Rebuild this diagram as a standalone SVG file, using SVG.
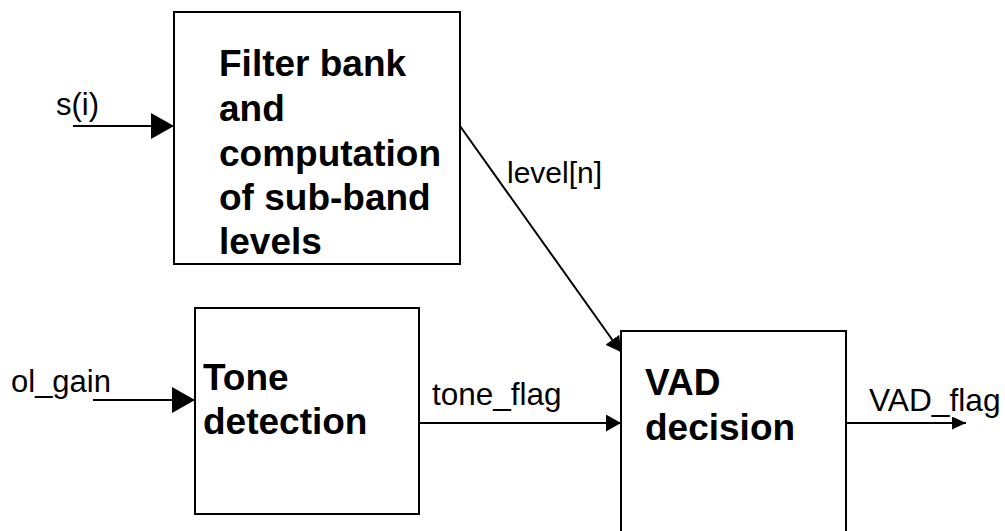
<svg xmlns="http://www.w3.org/2000/svg" width="1005" height="531" viewBox="0 0 1005 531">
<style>
.box{fill:#fff;stroke:#000;stroke-width:2}
.t{font-family:"Liberation Sans",Arial,sans-serif;font-size:31px;fill:#000}
.b{font-family:"Liberation Sans",Arial,sans-serif;font-size:37px;font-weight:bold;fill:#000}
.c{stroke:#000;stroke-width:2;fill:none}
</style>
<defs>
<marker id="big" markerUnits="userSpaceOnUse" markerWidth="24" markerHeight="26" refX="23" refY="13" orient="auto"><path d="M0,0 L23,13 L0,26 Z" fill="#000"/></marker>
<marker id="small" markerUnits="userSpaceOnUse" markerWidth="16" markerHeight="18" refX="15" refY="8.5" orient="auto"><path d="M0,0 L15,8.5 L0,17 Z" fill="#000"/></marker>
<marker id="tiny" markerUnits="userSpaceOnUse" markerWidth="15" markerHeight="14" refX="14" refY="6.5" orient="auto"><path d="M0,0 L14,6.5 L0,13 Z" fill="#000"/></marker>
</defs>
<rect width="1005" height="531" fill="#fff"/>
<g id="connectors">
<line class="c" x1="73" y1="126" x2="174" y2="126" marker-end="url(#big)"/>
<line class="c" x1="93" y1="400" x2="195" y2="400" marker-end="url(#big)"/>
<line class="c" x1="460" y1="126" x2="621" y2="352" marker-end="url(#small)"/>
<line class="c" x1="419" y1="423" x2="621" y2="423" marker-end="url(#small)"/>
<line class="c" x1="846" y1="423" x2="966" y2="423" marker-end="url(#tiny)"/>
<text class="t" x="56" y="115">s(i)</text>
<text class="t" x="11" y="392">ol_gain</text>
<text class="t" x="507" y="183" style="font-size:30px">level[n]</text>
<text class="t" x="432" y="405" style="font-size:31.5px">tone_flag</text>
<text class="t" x="869" y="411" style="font-size:31.7px">VAD_flag</text>
</g>
<g id="filterbank">
<rect class="box" x="174" y="12" width="286" height="252"/>
<text class="b" x="219" y="76">Filter bank</text>
<text class="b" x="219" y="121">and</text>
<text class="b" x="219" y="166">computation</text>
<text class="b" x="219" y="210">of sub-band</text>
<text class="b" x="219" y="254">levels</text>
</g>
<g id="tone">
<rect class="box" x="195" y="308" width="224" height="206"/>
<text class="b" x="203" y="390">Tone</text>
<text class="b" x="203" y="434">detection</text>
</g>
<g id="vad">
<rect class="box" x="621" y="331" width="225" height="220"/>
<text class="b" x="645" y="395">VAD</text>
<text class="b" x="645" y="440">decision</text>
</g>
</svg>
